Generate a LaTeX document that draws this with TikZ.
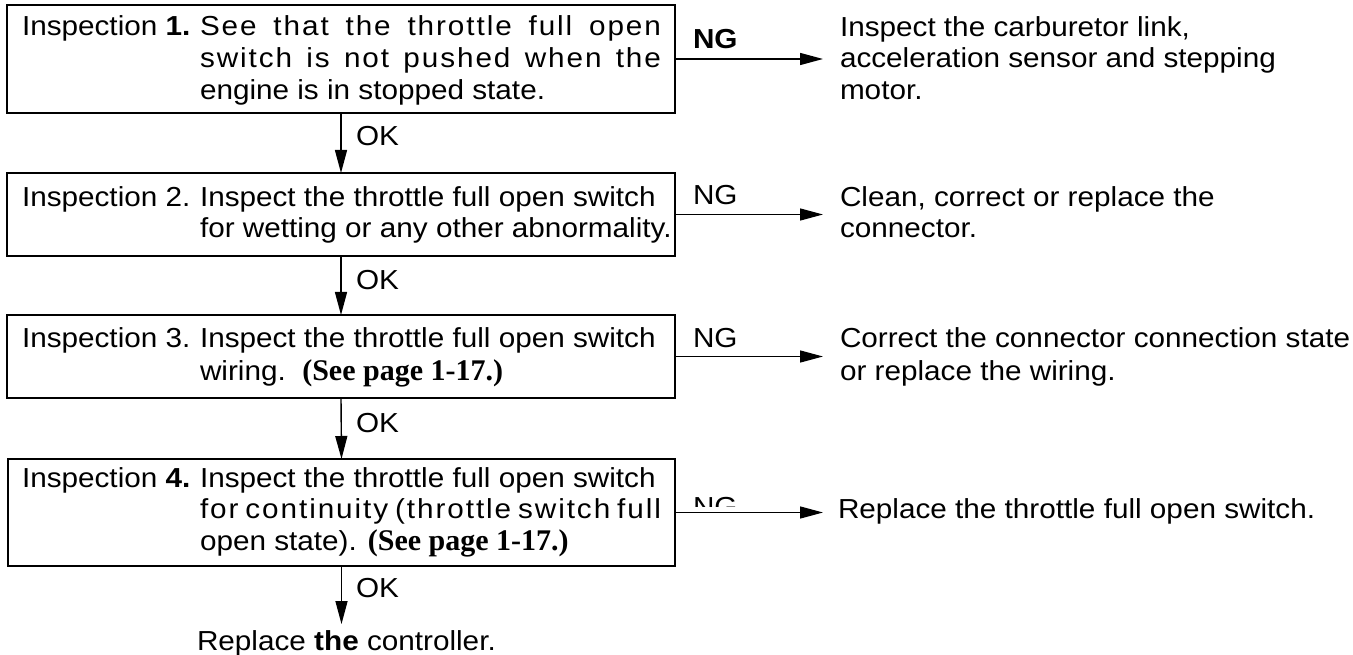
\documentclass[tikz,border=0pt]{standalone}
\usepackage{fontspec}
\setmainfont{Liberation Sans}[FakeStretch=1.08]
\newfontfamily\serifbold{Liberation Serif}[FakeStretch=1.0]
\usetikzlibrary{arrows.meta}
\newcommand{\spreadline}[2]{\makebox[#1][s]{\addfontfeatures{LetterSpace=7}#2}}
\newcommand{\seepage}{{\serifbold\bfseries\fontsize{30}{31.5}\selectfont (See page 1-17.)}}
\tikzset{
  every node/.style={font=\fontsize{27.5}{31.5}\selectfont, inner sep=0pt, outer sep=0pt},
  box/.style={draw, line width=1.8pt, rectangle, minimum width=668pt, anchor=north west},
  ln/.style={anchor=base west},
  arr/.style={line width=1.4pt, -{Triangle[length=23pt,width=12pt]}},
}
\begin{document}
\begin{tikzpicture}[x=1pt,y=-1pt]
\useasboundingbox (0,0) rectangle (1353,655);
% boxes
\node[box, minimum height=108pt] (b1) at (7,5) {};
\node[box, minimum height=83pt] (b2) at (7,173) {};
\node[box, minimum height=83pt] (b3) at (7,315) {};
\node[box, minimum height=107pt, minimum width=667pt] (b4) at (8,459) {};
% box 1 text
\node[ln] (t1a) at (22,36) {Inspection \textbf{1.}};
\node[ln] (t1b) at (200,36) {\spreadline{461pt}{See that the throttle full open}};
\node[ln] (t1c) at (200,68) {\spreadline{461pt}{switch is not pushed when the}};
\node[ln] (t1d) at (200,100) {engine is in stopped state.};
% box 2 text
\node[ln] (t2a) at (22,207) {Inspection 2.};
\node[ln] (t2b) at (200,207) {Inspect the throttle full open switch};
\node[ln] (t2c) at (200,238) {for wetting or any other abnormality.};
% box 3 text
\node[ln] (t3a) at (22,348) {Inspection 3.};
\node[ln] (t3b) at (200,348) {Inspect the throttle full open switch};
\node[ln] (t3c) at (200,380) {wiring.\ \ \seepage};
% box 4 text
\node[ln] (t4a) at (22,487) {Inspection \textbf{4.}};
\node[ln] (t4b) at (200,487) {Inspect the throttle full open switch};
\node[ln] (t4c) at (200,518) {\spreadline{461pt}{for continuity (throttle switch full}};
\node[ln] (t4d) at (200,550) {open state). \seepage};
% right texts
\node[ln] (r1a) at (840,37) {Inspect the carburetor link,};
\node[ln] (r1b) at (840,68) {acceleration sensor and stepping};
\node[ln] (r1c) at (840,100) {motor.};
\node[ln] (r2a) at (840,207) {Clean, correct or replace the};
\node[ln] (r2b) at (840,238) {connector.};
\node[ln] (r3a) at (840,348) {Correct the connector connection state};
\node[ln] (r3b) at (840,380) {or replace the wiring.};
\node[ln] (r4a) at (838,518) {Replace the throttle full open switch.};
% final
\node[ln] (fin) at (197,650) {Replace \textbf{the} controller.};
% OK labels
\node[ln] (ok1) at (356,146) {OK};
\node[ln] (ok2) at (356,290) {OK};
\node[ln] (ok3) at (356,432) {OK};
\node[ln] (ok4) at (356,597) {OK};
% NG labels
\node[ln] (ng1) at (693,49) {\textbf{NG}};
\node[ln] (ng2) at (693,205) {NG};
\node[ln] (ng3) at (693,347) {NG};
\begin{scope}
  \clip (680,490) rectangle (760,506);
  \node[ln] (ng4) at (693,516) {NG};
\end{scope}
% arrow end coordinates
\coordinate (e) at (823,0);
% vertical arrows
\draw[arr] (b1.south) -- (b2.north);
\draw[arr] (b2.south) -- (b3.north);
\draw[arr] (b3.south) -- (b4.north);
\draw[arr, shorten >=6pt] (b4.south) -- (b4.south |- fin.north);
% horizontal arrows
\draw[arr] (b1.east) -- (b1.east -| e);
\draw[arr] (b2.east) -- (b2.east -| e);
\draw[arr] (b3.east) -- (b3.east -| e);
\draw[arr] (b4.east) -- (b4.east -| e);
\end{tikzpicture}
\end{document}
